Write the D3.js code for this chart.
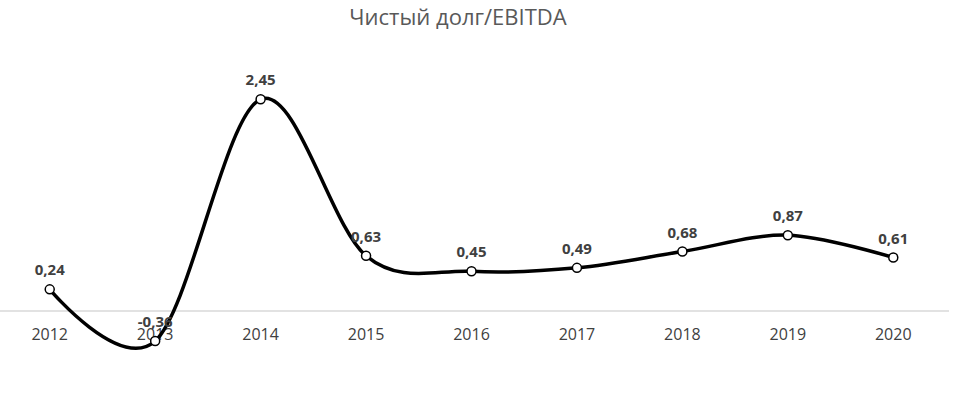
<!DOCTYPE html>
<html>
<head>
<meta charset="utf-8">
<script src="https://cdn.jsdelivr.net/npm/d3@7"></script>
<style>
  body { margin: 0; background: #fff; }
  svg { display: block; }
</style>
</head>
<body>
<div id="chart"></div>
<script>
// Чистый долг/EBITDA

const years = ["2012", "2013", "2014", "2015", "2016", "2017", "2018", "2019", "2020"];
const values = [0.24, -0.36, 2.45, 0.63, 0.45, 0.49, 0.68, 0.87, 0.61];
const valueLabels = ["0,24", "-0,36", "2,45", "0,63", "0,45", "0,49", "0,68", "0,87", "0,61"];

const width = 954;
const height = 396;

const svg = d3.select("#chart")
    .append("svg")
    .attr("width", width)
    .attr("height", height);

const x = d3.scaleBand()
    .domain(years)
    .range([-3, 946]);

const y = d3.scaleLinear()
    .domain([-0.6, 3.0])
    .range([361.6, 52]);

const cx = d => x(d) + x.bandwidth() / 2;

// title
svg.append("text")
    .attr("x", 458)
    .attr("y", 25)
    .attr("text-anchor", "middle")
    .attr("font-family", "Open Sans")
    .attr("font-size", "22px")
    .attr("fill", "#595959")
    .text("Чистый долг/EBITDA");

// zero line (category axis)
svg.append("line")
    .attr("x1", 0)
    .attr("x2", 949)
    .attr("y1", y(0) + 1)
    .attr("y2", y(0) + 1)
    .attr("stroke", "#d9d9d9")
    .attr("stroke-width", 1.5);

// year labels
svg.append("g")
    .selectAll("text")
    .data(years)
    .enter().append("text")
    .attr("x", d => cx(d))
    .attr("y", 340)
    .attr("text-anchor", "middle")
    .attr("font-family", "Open Sans")
    .attr("font-size", "16px")
    .attr("fill", "#404040")
    .text(d => d);

const pts = years.map((yr, i) => ({ year: yr, v: values[i], label: valueLabels[i] }));

const line = d3.line()
    .x(d => cx(d.year))
    .y(d => y(d.v))
    .curve(d3.curveCardinal.tension(0));

svg.append("path")
    .datum(pts)
    .attr("d", line)
    .attr("fill", "none")
    .attr("stroke", "#000")
    .attr("stroke-width", 3.5);

svg.append("g")
    .selectAll("circle")
    .data(pts)
    .enter().append("circle")
    .attr("cx", d => cx(d.year))
    .attr("cy", d => y(d.v))
    .attr("r", 4.5)
    .attr("fill", "#fff")
    .attr("stroke", "#000")
    .attr("stroke-width", 1.5);

// data labels
svg.append("g")
    .selectAll("text")
    .data(pts)
    .enter().append("text")
    .attr("x", d => cx(d.year))
    .attr("y", d => y(d.v) - 14)
    .attr("text-anchor", "middle")
    .attr("font-family", "Open Sans")
    .attr("font-weight", "bold")
    .attr("font-size", "15px")
    .attr("fill", "#404040")
    .text(d => d.label);
</script>
</body>
</html>
